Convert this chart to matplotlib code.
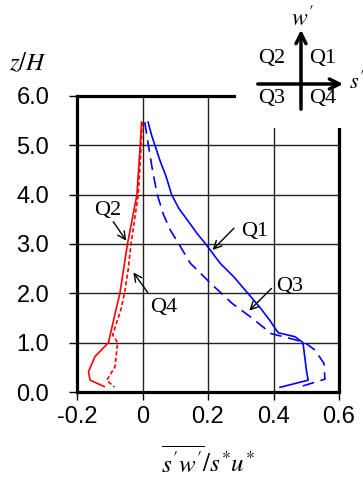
import matplotlib
matplotlib.use("Agg")
import matplotlib.pyplot as plt

plt.rcParams['mathtext.fontset'] = 'stix'

# Q1 (blue solid)
z_q1 = [5.47, 5.2, 5.0, 4.66, 4.39, 4.0, 3.72, 3.45, 3.21, 3.0, 2.61, 2.34, 2.03, 1.72,
        1.45, 1.25, 1.20, 1.12, 1.0, 0.41, 0.24, 0.095]
x_q1 = [0.017, 0.028, 0.038, 0.055, 0.071, 0.089, 0.111, 0.141, 0.167, 0.193, 0.237, 0.278,
        0.318, 0.358, 0.389, 0.409, 0.415, 0.466, 0.49, 0.501, 0.506, 0.42]
# Q3 (blue dashed)
z_q3 = [5.47, 5.0, 4.52, 4.0, 3.58, 3.27, 3.0, 2.61, 2.21, 1.80, 1.53, 1.26, 1.19, 1.07,
        1.0, 0.85, 0.58, 0.26, 0.095]
x_q3 = [0.007, 0.018, 0.030, 0.045, 0.065, 0.086, 0.111, 0.146, 0.207, 0.273, 0.328, 0.379,
        0.389, 0.46, 0.496, 0.527, 0.554, 0.557, 0.476]
# Q2 (red solid)
z_q2 = [5.47, 5.0, 4.0, 3.0, 2.0, 1.67, 1.0, 0.72, 0.41, 0.24, 0.11]
x_q2 = [-0.003, -0.007, -0.017, -0.046, -0.069, -0.081, -0.104, -0.145, -0.165, -0.16, -0.117]
# Q4 (red dotted)
z_q4 = [5.47, 5.0, 4.0, 3.0, 2.47, 2.0, 1.67, 1.16, 1.0, 0.51, 0.24, 0.10]
x_q4 = [-0.001, -0.004, -0.013, -0.035, -0.044, -0.055, -0.066, -0.091, -0.076, -0.084, -0.109, -0.086]

xticks = [-0.2, 0, 0.2, 0.4, 0.6]
xtick_labels = ['-0.2', '0', '0.2', '0.4', '0.6']
yticks = [0, 1, 2, 3, 4, 5, 6]
ytick_labels = ['0.0', '1.0', '2.0', '3.0', '4.0', '5.0', '6.0']

W, H = 363, 486
fig = plt.figure(figsize=(W / 100, H / 100), dpi=100)
ax = fig.add_axes([77 / W, 1 - 392 / H, 262 / W, 296 / H])

ax.plot(x_q1, z_q1, color='blue', lw=1.2)
ax.plot(x_q3, z_q3, color='blue', lw=1.2, dashes=(7, 4))
ax.plot(x_q2, z_q2, color='red', lw=1.2)
ax.plot(x_q4, z_q4, color='red', lw=1.2, dashes=(2.5, 1.5))

ax.set_xlim(-0.2, 0.6)
ax.set_ylim(0, 6)
ax.set_xticks(xticks)
ax.set_xticklabels(xtick_labels)
ax.set_yticks(yticks)
ax.set_yticklabels(ytick_labels)
ax.grid(True, color='#222222', lw=1.0)
ax.set_axisbelow(True)
for sp in ax.spines.values():
    sp.set_linewidth(2.3)
ax.tick_params(direction='out', length=6, width=1, labelsize=17, pad=4)
ax.tick_params(axis='y', pad=14)
for lab in ax.get_xticklabels() + ax.get_yticklabels():
    lab.set_family('Liberation Sans')

# quadrant annotations
serif = dict(family='Liberation Serif', fontsize=16)
arr = dict(arrowstyle='->', lw=1.0, color='k', mutation_scale=14)
ax.annotate('', xy=(0.208, 2.84), xytext=(0.285, 3.36), arrowprops=arr)
ax.text(0.342, 3.25, 'Q1', ha='center', va='center', **serif)
ax.annotate('', xy=(-0.045, 3.02), xytext=(-0.094, 3.50), arrowprops=arr)
ax.text(-0.106, 3.68, 'Q2', ha='center', va='center', **serif)
ax.annotate('', xy=(-0.033, 2.47), xytext=(0.021, 1.97), arrowprops=arr)
ax.text(0.066, 1.72, 'Q4', ha='center', va='center', **serif)
ax.annotate('', xy=(0.32, 1.61), xytext=(0.40, 2.14), arrowprops=arr)
ax.text(0.448, 2.14, 'Q3', ha='center', va='center', **serif)

# inset quadrant sketch on white box
ins = fig.add_axes([236 / W, 1 - 128 / H, 127 / W, 128 / H])
ins.set_xlim(236, 363)
ins.set_ylim(128, 0)
ins.set_facecolor('white')
ins.set_xticks([])
ins.set_yticks([])
for sp in ins.spines.values():
    sp.set_visible(False)
big = dict(arrowstyle='->', lw=2.5, color='k', mutation_scale=18)
ins.annotate('', xy=(301, 27), xytext=(301, 112), arrowprops=big)
ins.annotate('', xy=(346, 84), xytext=(255, 84), arrowprops=big)
ins.text(272, 58, 'Q2', ha='center', va='center', **serif)
ins.text(323, 58, 'Q1', ha='center', va='center', **serif)
ins.text(272, 98, 'Q3', ha='center', va='center', **serif)
ins.text(323, 98, 'Q4', ha='center', va='center', **serif)
ins.text(302, 18, "$w'$", ha='center', va='center', fontsize=17)
ins.text(349, 82, "$s'$", ha='left', va='center', fontsize=16)

fig.text(28 / W, 1 - 63 / H, '$z/H$', ha='center', va='center', fontsize=18)
fig.text(208 / W, 1 - 462 / H, r"$\overline{s^{\prime}w^{\prime}}/s^{*}u^{*}$",
         ha='center', va='center', fontsize=18)

fig.savefig('out.png', dpi=100)
